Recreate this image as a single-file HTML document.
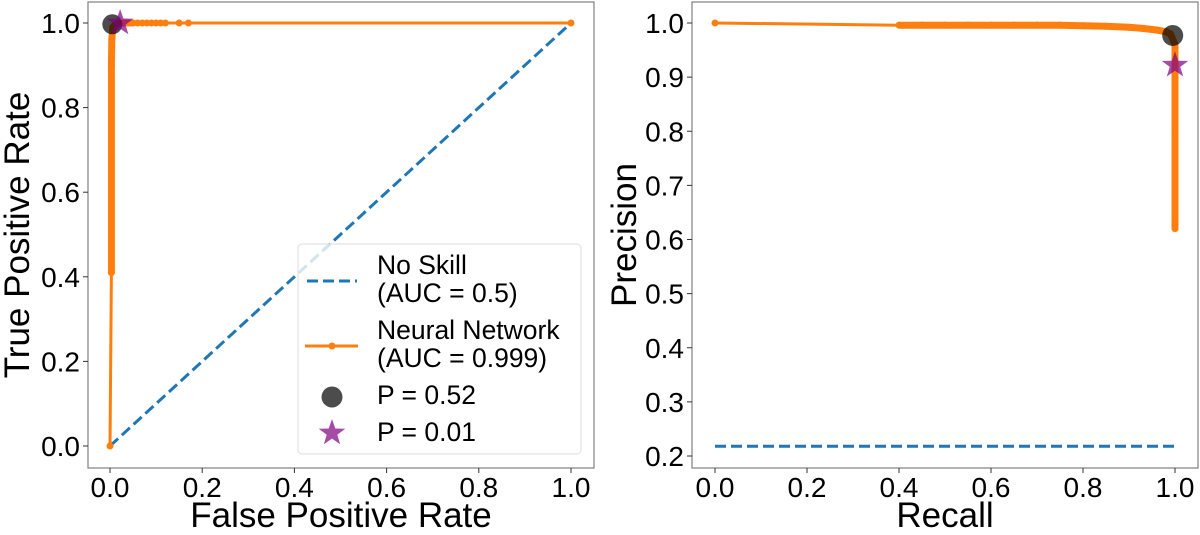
<!DOCTYPE html>
<html><head><meta charset="utf-8"><style>
body{margin:0;background:#fff;width:1200px;height:530px;overflow:hidden}
text{font-family:"Liberation Sans","DejaVu Sans",sans-serif;fill:#000}
</style></head><body>
<svg id="chart" width="1200" height="530" xmlns="http://www.w3.org/2000/svg"></svg>
<script>
// ROC data
const rocFpr=[0,0.003,0.003,0.004,0.006,0.008,0.01,0.015,0.02,0.025,0.03,0.035,0.04,0.045,0.05,0.06,0.07,0.08,0.09,0.1,0.11,0.12,0.15,0.17,1.0];
const rocTpr=[0,0.41,0.9,0.96,0.98,0.99,0.995,0.998,1,1,1,1,1,1,1,1,1,1,1,1,1,1,1,1,1];
const rocDenseFpr=[0.003,0.003,0.004,0.006];
const rocDenseTpr=[0.41,0.9,0.96,0.99];
const noSkillRocX=[0,1],noSkillRocY=[0,1];
const rocOpt=[0.005,0.997],rocStar=[0.022,1.0];
// PR data
const prRecall=[0,0.4,0.45,0.5,0.55,0.6,0.65,0.7,0.75,0.8,0.85,0.9,0.93,0.96,0.98,0.99,1,1,1,1,1,1,1,1,1];
const prPrecision=[1,0.996,0.996,0.996,0.996,0.996,0.996,0.996,0.996,0.995,0.994,0.992,0.99,0.987,0.984,0.98,0.96,0.93,0.9,0.88,0.8,0.72,0.66,0.63,0.62];
const noSkillPr=0.218;
const prOpt=[0.995,0.977],prStar=[1.0,0.922];
const xTicks=["0.0","0.2","0.4","0.6","0.8","1.0"];
const rocYTicks=["0.0","0.2","0.4","0.6","0.8","1.0"];
const prYTicks=["0.2","0.3","0.4","0.5","0.6","0.7","0.8","0.9","1.0"];

const svg=document.getElementById('chart');
const NS='http://www.w3.org/2000/svg';
function mk(tag,attrs,parent){const e=document.createElementNS(NS,tag);for(const k in attrs)e.setAttribute(k,attrs[k]);(parent||svg).appendChild(e);return e;}
function star(cx,cy,R){let p=[];for(let i=0;i<10;i++){const r=i%2?R*0.4:R;const a=-Math.PI/2+i*Math.PI/5;p.push((cx+r*Math.cos(a)).toFixed(1)+','+(cy+r*Math.sin(a)).toFixed(1));}return p.join(' ');}

function axes(box,xs,ys,yTicks,xlab,ylab,name){
  const g=mk('g',{});
  
  
  const fr=mk('rect',{x:box.l,y:box.t,width:box.r-box.l,height:box.b-box.t,fill:'none',stroke:'#808080','stroke-width':1.2},g);
  
  
  xTicks.forEach(t=>{const x=xs(+t);mk('line',{x1:x,x2:x,y1:box.b,y2:box.b+5,stroke:'#333'},g);
    const tx=mk('text',{x:x,y:box.b+29,'font-size':28,'text-anchor':'middle'},g);tx.textContent=t;
    
    });
  yTicks.forEach(t=>{const y=ys(+t);mk('line',{x1:box.l-5,x2:box.l,y1:y,y2:y,stroke:'#333'},g);
    const tx=mk('text',{x:box.l-8,y:y+10,'font-size':28,'text-anchor':'end'},g);tx.textContent=t;
    
    });
  const xl=mk('text',{x:(box.l+box.r)/2,y:527,'font-size':35,'text-anchor':'middle'},g);xl.textContent=xlab;
  
  
  const yl=mk('text',{x:0,y:0,'font-size':35,'text-anchor':'middle',transform:`translate(${box.ylx},${(box.t+box.b)/2}) rotate(-90)`},g);yl.textContent=ylab;
  
  
  return g;
}
function poly(xsArr,ysArr,xs,ys,attrs,name){
  const pts=xsArr.map((v,i)=>xs(v).toFixed(1)+','+ys(ysArr[i]).toFixed(1)).join(' ');
  const e=mk('polyline',Object.assign({points:pts,fill:'none'},attrs));
  
  
  return e;
}
function dots(xsArr,ysArr,xs,ys,name){
  xsArr.forEach((v,i)=>{const c=mk('circle',{cx:xs(v),cy:ys(ysArr[i]),r:3.5,fill:'#ff7f0e'});
    
    });
}

// Left ROC
const L={l:88,r:594,t:2,b:468,ylx:29};
const lx=v=>110+v*461, ly=v=>446-v*423;
axes(L,lx,ly,rocYTicks,'False Positive Rate','True Positive Rate','roc-axes');
poly(noSkillRocX,noSkillRocY,lx,ly,{stroke:'#1f77b4','stroke-width':3,'stroke-dasharray':'11,5'},'roc-no-skill-line');
poly(rocFpr,rocTpr,lx,ly,{stroke:'#ff7f0e','stroke-width':3}, 'roc-neural-network-line');
poly(rocDenseFpr,rocDenseTpr,lx,ly,{stroke:'#ff7f0e','stroke-width':7,'stroke-linecap':'round'},'roc-dense-points');
dots(rocFpr,rocTpr,lx,ly,'roc-point');
let c=mk('circle',{cx:lx(rocOpt[0]),cy:ly(rocOpt[1]),r:10,fill:'#000','fill-opacity':0.7});


let s=mk('polygon',{points:star(lx(rocStar[0]),ly(rocStar[1]),14),fill:'purple','fill-opacity':0.7});



// Legend
const lg=mk('g',{});


mk('rect',{x:298,y:244,width:283,height:210,rx:4,fill:'#fff','fill-opacity':0.8,stroke:'#ddd'},lg);
mk('line',{x1:307,x2:357,y1:281,y2:281,stroke:'#1f77b4','stroke-width':3,'stroke-dasharray':'11,5'},lg);
mk('line',{x1:305,x2:358,y1:346,y2:346,stroke:'#ff7f0e','stroke-width':3},lg);
mk('circle',{cx:332,cy:346,r:3.5,fill:'#ff7f0e'},lg);
mk('circle',{cx:332,cy:397,r:10.5,fill:'#000','fill-opacity':0.7},lg);
mk('polygon',{points:star(332,433,14),fill:'purple','fill-opacity':0.7},lg);
[['No Skill',274],['(AUC = 0.5)',302],['Neural Network',339],['(AUC = 0.999)',367],['P = 0.52',404],['P = 0.01',441]].forEach(([t,y])=>{
  const e=mk('text',{x:377,y:y,'font-size':26.5},lg);e.textContent=t;
  
  });

// Right PR
const R={l:692,r:1198,t:2,b:468,ylx:636};
const rx=v=>715+v*460, ry=v=>23+(1-v)*541.25;
axes(R,rx,ry,prYTicks,'Recall','Precision','pr-axes');
poly([0,1],[noSkillPr,noSkillPr],rx,ry,{stroke:'#1f77b4','stroke-width':3,'stroke-dasharray':'11,5'},'pr-no-skill-line');
poly(prRecall,prPrecision,rx,ry,{stroke:'#ff7f0e','stroke-width':3},'pr-neural-network-line');
poly(prRecall.slice(1),prPrecision.slice(1),rx,ry,{stroke:'#ff7f0e','stroke-width':7,'stroke-linejoin':'round'},'pr-dense-points');
dots(prRecall,prPrecision,rx,ry,'pr-point');
c=mk('circle',{cx:rx(prOpt[0]),cy:ry(prOpt[1]),r:10.5,fill:'#000','fill-opacity':0.7});


s=mk('polygon',{points:star(rx(prStar[0]),ry(prStar[1]),14),fill:'purple','fill-opacity':0.7});


</script>
</body></html>
